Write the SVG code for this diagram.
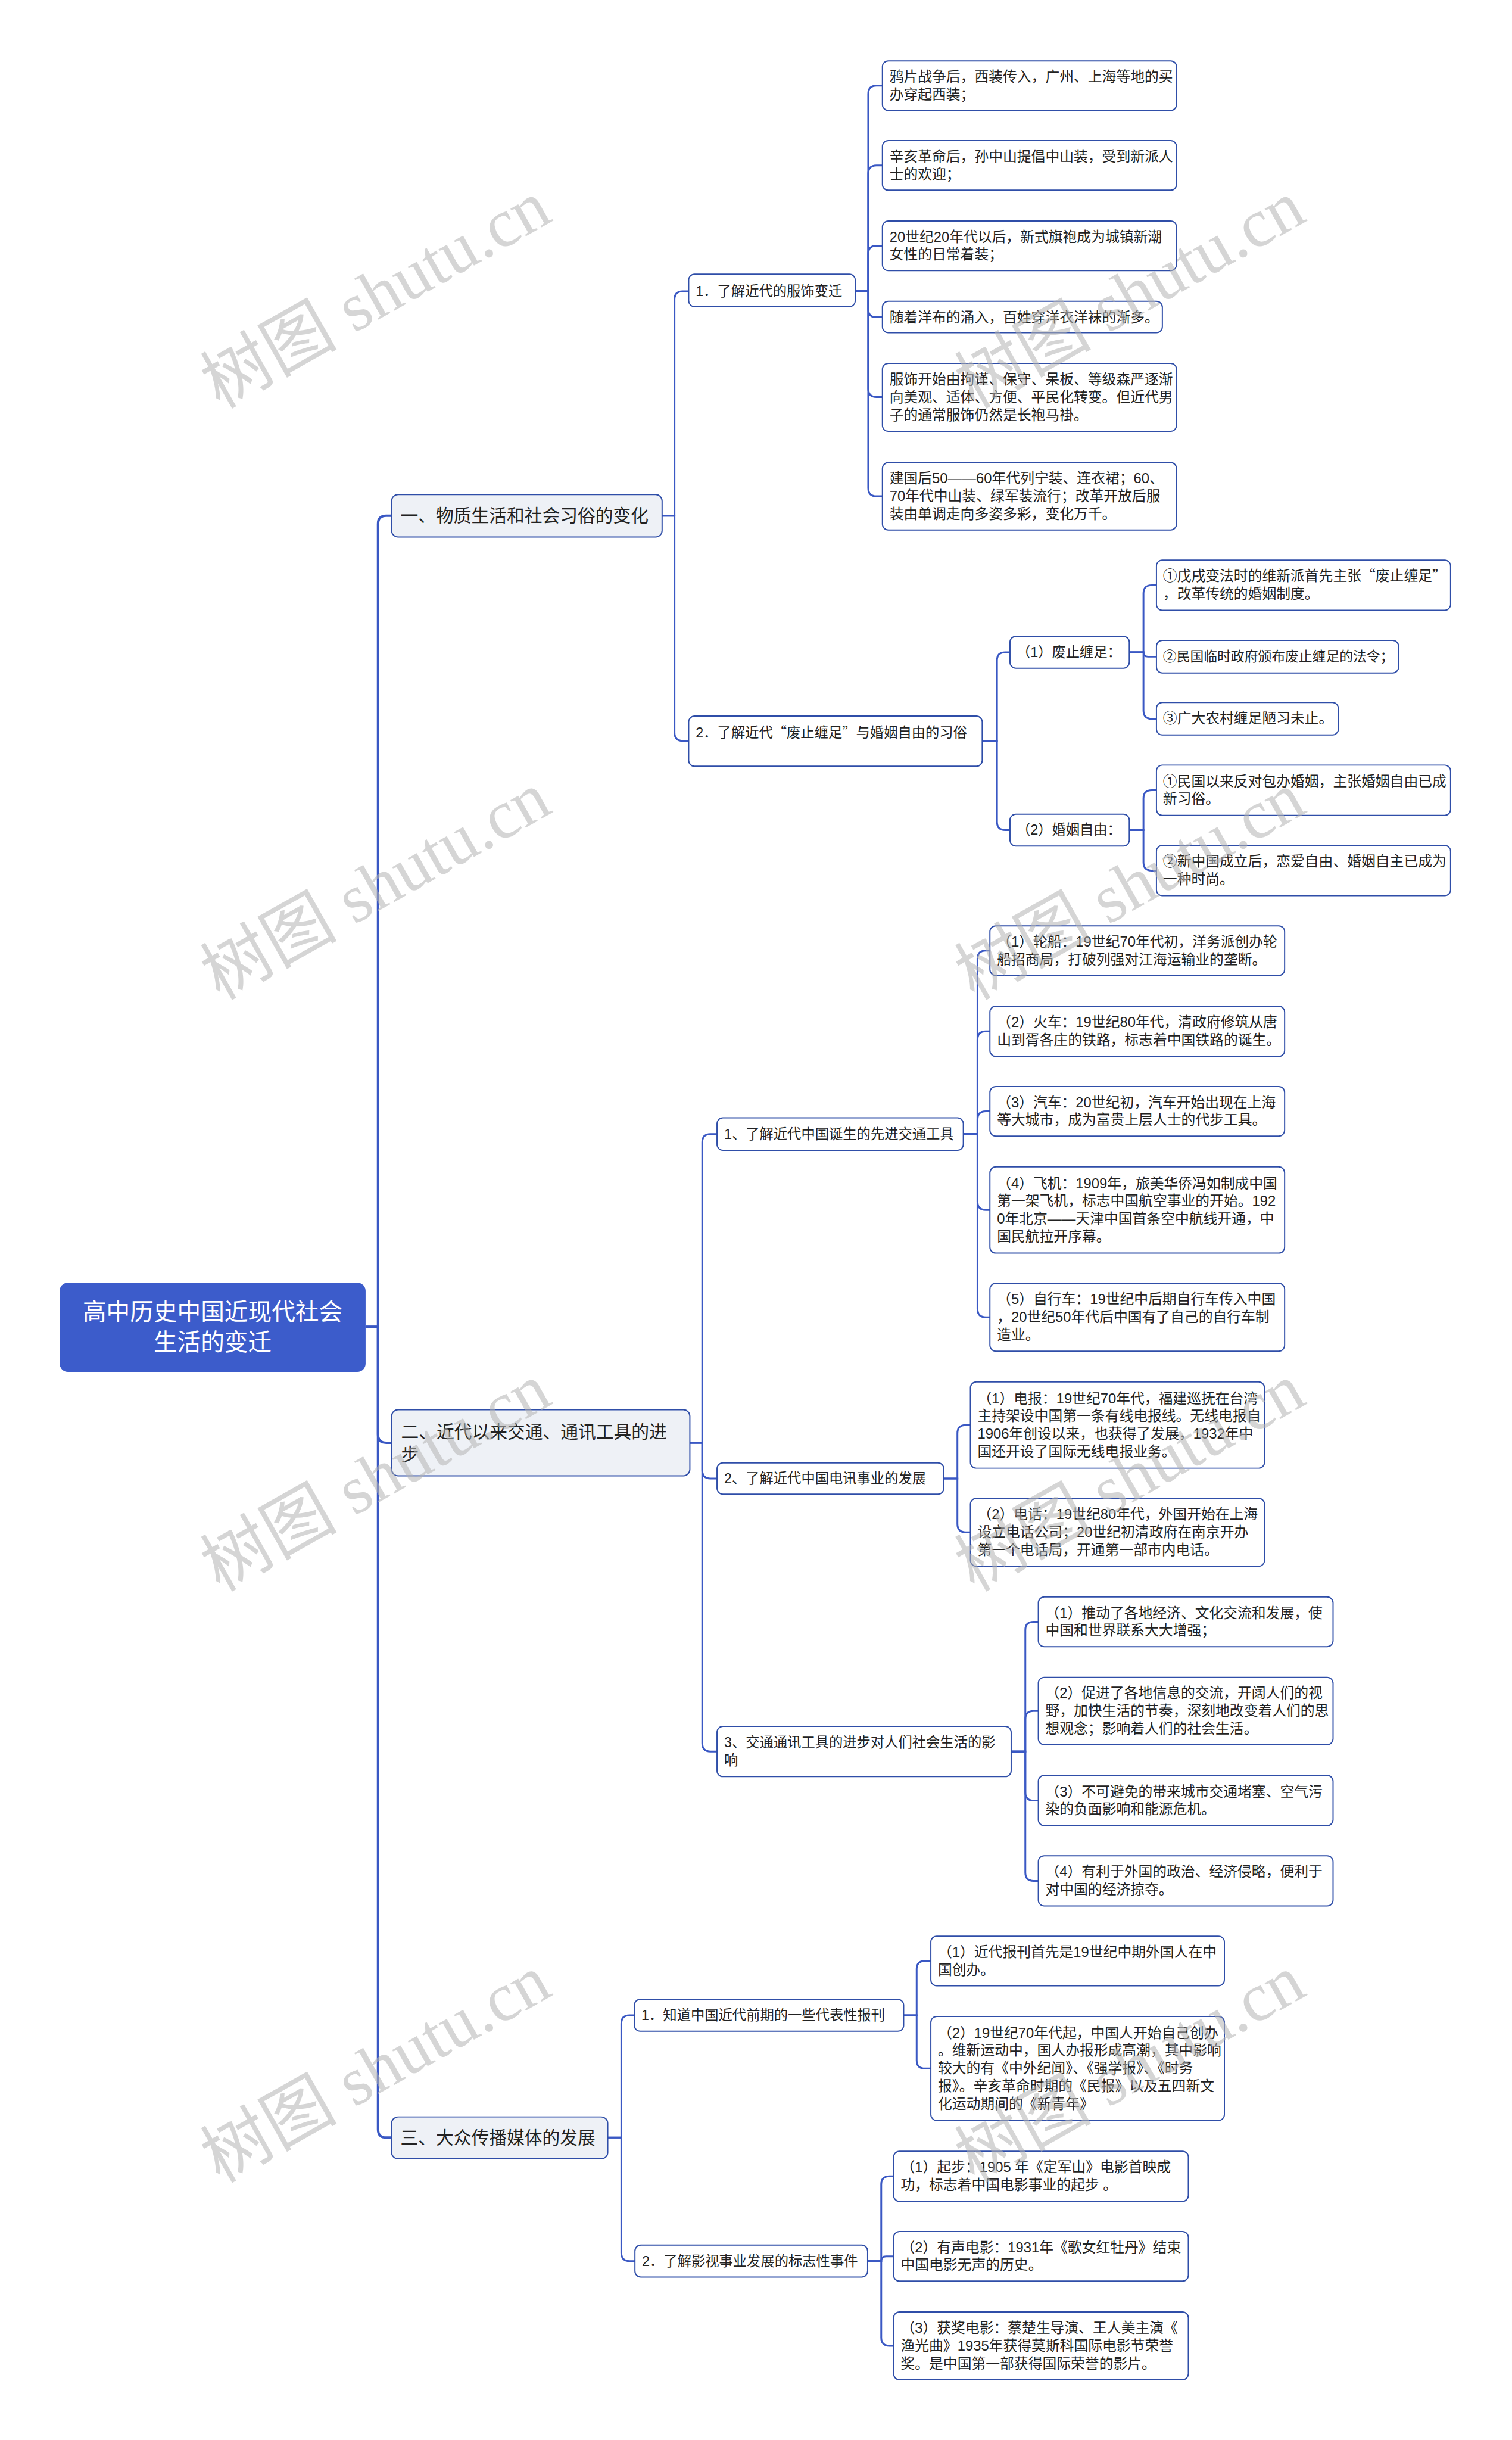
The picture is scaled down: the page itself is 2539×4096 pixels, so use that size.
<svg xmlns="http://www.w3.org/2000/svg" width="2539" height="4096" viewBox="0 0 2539 4096">
<style>
.n rect{fill:#ffffff;stroke:#2f4ea8;stroke-width:2}
.m rect{fill:#eef1f6}
.t{font-family:'Liberation Sans','Noto Sans CJK SC',sans-serif;font-size:24px;fill:#222222}
.s{font-size:23.5px}
.mt{font-size:30px}
.rt{font-size:40px;fill:#ffffff}
.q{font-family:'Noto Sans CJK SC',sans-serif}
.c path{fill:none;stroke:#3a58c4;stroke-width:3}
.c .k{stroke-width:4}
.wm{font-family:'Liberation Serif','Noto Sans CJK SC',serif;font-size:116px;fill:#b4b4b4;opacity:.55}
</style>
<rect x="0" y="0" width="2539" height="4096" fill="#ffffff"/>
<g transform="scale(0.9918)">
<g id="connectors" class="c">
<path class="k" d="M619 2246 H640 V887 Q640 873 654 873 H663"/>
<path class="k" d="M619 2246 H640 V2428 Q640 2442 654 2442 H663"/>
<path class="k" d="M619 2246 H640 V3604 Q640 3618 654 3618 H663"/>
<path d="M1121 873 H1142 V507 Q1142 493 1156 493 H1166"/>
<path d="M1121 873 H1142 V1240 Q1142 1254 1156 1254 H1166"/>
<path d="M1448 493 H1470 V159 Q1470 145 1484 145 H1494"/>
<path d="M1448 493 H1470 V294 Q1470 280 1484 280 H1494"/>
<path d="M1448 493 H1470 V430 Q1470 416 1484 416 H1494"/>
<path d="M1448 493 H1470 V523 Q1470 537 1484 537 H1494"/>
<path d="M1448 493 H1470 V658 Q1470 672 1484 672 H1494"/>
<path d="M1448 493 H1470 V826 Q1470 840 1484 840 H1494"/>
<path d="M1663 1254 H1688 V1118 Q1688 1104 1702 1104 H1710"/>
<path d="M1663 1254 H1688 V1391 Q1688 1405 1702 1405 H1710"/>
<path d="M1912 1104 H1936 V1004.5 Q1936 990.5 1950 990.5 H1958"/>
<path d="M1912 1104 H1936 Q1936 1111.5 1943.5 1111.5 H1958"/>
<path d="M1912 1104 H1936 V1202.5 Q1936 1216.5 1950 1216.5 H1958"/>
<path d="M1912 1405 H1936 V1351.5 Q1936 1337.5 1950 1337.5 H1958"/>
<path d="M1912 1405 H1936 V1459.5 Q1936 1473.5 1950 1473.5 H1958"/>
<path d="M1168 2442 H1189 V1933.5 Q1189 1919.5 1203 1919.5 H1214"/>
<path d="M1168 2442 H1189 V2488.5 Q1189 2502.5 1203 2502.5 H1214"/>
<path d="M1168 2442 H1189 V2950.5 Q1189 2964.5 1203 2964.5 H1214"/>
<path d="M1631 1919.5 H1655 V1623 Q1655 1609 1669 1609 H1676"/>
<path d="M1631 1919.5 H1655 V1759.5 Q1655 1745.5 1669 1745.5 H1676"/>
<path d="M1631 1919.5 H1655 V1895 Q1655 1881 1669 1881 H1676"/>
<path d="M1631 1919.5 H1655 V2034 Q1655 2048 1669 2048 H1676"/>
<path d="M1631 1919.5 H1655 V2215.5 Q1655 2229.5 1669 2229.5 H1676"/>
<path d="M1598 2502.5 H1621 V2426 Q1621 2412 1635 2412 H1643"/>
<path d="M1598 2502.5 H1621 V2579.5 Q1621 2593.5 1635 2593.5 H1643"/>
<path d="M1712 2964.5 H1736 V2759 Q1736 2745 1750 2745 H1758"/>
<path d="M1712 2964.5 H1736 V2910 Q1736 2896 1750 2896 H1758"/>
<path d="M1712 2964.5 H1736 V3033.5 Q1736 3047.5 1750 3047.5 H1758"/>
<path d="M1712 2964.5 H1736 V3169.5 Q1736 3183.5 1750 3183.5 H1758"/>
<path d="M1029 3618 H1052 V3425 Q1052 3411 1066 3411 H1074"/>
<path d="M1029 3618 H1052 V3813 Q1052 3827 1066 3827 H1075"/>
<path d="M1530 3411 H1552 V3333 Q1552 3319 1566 3319 H1576"/>
<path d="M1530 3411 H1552 V3487 Q1552 3501 1566 3501 H1576"/>
<path d="M1469 3827 H1492 V3697.5 Q1492 3683.5 1506 3683.5 H1513"/>
<path d="M1469 3827 H1492 Q1492 3819 1500 3819 H1513"/>
<path d="M1469 3827 H1492 V3956.5 Q1492 3970.5 1506 3970.5 H1513"/>
</g>

<g id="n-root"><rect x="101" y="2171" width="518" height="151" rx="14" fill="#3c5ccb"/><text class="t rt" text-anchor="middle"><tspan x="360" y="2234">高中历史中国近现代社会</tspan><tspan x="360" y="2286">生活的变迁</tspan></text></g>

<g id="n-1" class="n m"><rect x="663" y="837" width="458" height="72" rx="11"/><text class="t mt" x="678" y="883.5">一、物质生活和社会习俗的变化</text></g>
<g id="n-2" class="n m"><rect x="663" y="2386" width="505" height="112" rx="11"/><text class="t mt"><tspan x="679" y="2433.5">二、近代以来交通、通讯工具的进</tspan><tspan x="679" y="2472.5">步</tspan></text></g>
<g id="n-3" class="n m"><rect x="663" y="3583" width="366" height="71" rx="11"/><text class="t mt" x="678" y="3628.5">三、大众传播媒体的发展</text></g>

<g id="n-1-1" class="n"><rect x="1166" y="464" width="282" height="55" rx="10"/><text class="t s" x="1178" y="501">1．了解近代的服饰变迁</text></g>
<g id="n-1-1-1" class="n"><rect x="1494" y="103" width="498" height="84" rx="10"/><text class="t"><tspan x="1506" y="138">鸦片战争后，西装传入，广州、上海等地的买</tspan><tspan x="1506" y="168">办穿起西装；</tspan></text></g>
<g id="n-1-1-2" class="n"><rect x="1494" y="238" width="498" height="84" rx="10"/><text class="t"><tspan x="1506" y="273">辛亥革命后，孙中山提倡中山装，受到新派人</tspan><tspan x="1506" y="303">士的欢迎；</tspan></text></g>
<g id="n-1-1-3" class="n"><rect x="1494" y="374" width="498" height="84" rx="10"/><text class="t"><tspan x="1506" y="409">20世纪20年代以后，新式旗袍成为城镇新潮</tspan><tspan x="1506" y="439">女性的日常着装；</tspan></text></g>
<g id="n-1-1-4" class="n"><rect x="1494" y="510" width="474" height="53" rx="10"/><text class="t" x="1506" y="545">随着洋布的涌入，百姓穿洋衣洋袜的渐多。</text></g>
<g id="n-1-1-5" class="n"><rect x="1494" y="615" width="498" height="115" rx="10"/><text class="t"><tspan x="1506" y="650.5">服饰开始由拘谨、保守、呆板、等级森严逐渐</tspan><tspan x="1506" y="680.5">向美观、适体、方便、平民化转变。但近代男</tspan><tspan x="1506" y="710.5">子的通常服饰仍然是长袍马褂。</tspan></text></g>
<g id="n-1-1-6" class="n"><rect x="1494" y="783" width="498" height="114" rx="10"/><text class="t"><tspan x="1506" y="818">建国后50——60年代列宁装、连衣裙；60、</tspan><tspan x="1506" y="848">70年代中山装、绿军装流行；改革开放后服</tspan><tspan x="1506" y="878">装由单调走向多姿多彩，变化万千。</tspan></text></g>

<g id="n-1-2" class="n"><rect x="1166" y="1212" width="497" height="85" rx="10"/><text class="t s" x="1178" y="1248">2．了解近代<tspan class="q">“</tspan>废止缠足<tspan class="q">”</tspan>与婚姻自由的习俗</text></g>
<g id="n-1-2-1" class="n"><rect x="1710" y="1077" width="202" height="54" rx="10"/><text class="t s" x="1721" y="1112">（1）废止缠足：</text></g>
<g id="n-1-2-2" class="n"><rect x="1710" y="1378" width="202" height="54" rx="10"/><text class="t s" x="1721" y="1413">（2）婚姻自由：</text></g>
<g id="n-1-2-1-1" class="n"><rect x="1958" y="948" width="498" height="85" rx="10"/><text class="t"><tspan x="1969" y="983.5">①戊戌变法时的维新派首先主张<tspan class="q">“</tspan>废止缠足<tspan class="q">”</tspan></tspan><tspan x="1969" y="1013.5">，改革传统的婚姻制度。</tspan></text></g>
<g id="n-1-2-1-2" class="n"><rect x="1958" y="1084" width="410" height="55" rx="10"/><text class="t" style="font-size:23px" x="1969" y="1119.5">②民国临时政府颁布废止缠足的法令；</text></g>
<g id="n-1-2-1-3" class="n"><rect x="1958" y="1189" width="308" height="55" rx="10"/><text class="t" x="1969" y="1224.5">③广大农村缠足陋习未止。</text></g>
<g id="n-1-2-2-1" class="n"><rect x="1958" y="1295" width="498" height="85" rx="10"/><text class="t"><tspan x="1969" y="1330.5">①民国以来反对包办婚姻，主张婚姻自由已成</tspan><tspan x="1969" y="1360.5">新习俗。</tspan></text></g>
<g id="n-1-2-2-2" class="n"><rect x="1958" y="1431" width="498" height="85" rx="10"/><text class="t"><tspan x="1969" y="1466.5">②新中国成立后，恋爱自由、婚姻自主已成为</tspan><tspan x="1969" y="1496.5">一种时尚。</tspan></text></g>

<g id="n-2-1" class="n"><rect x="1214" y="1892" width="417" height="55" rx="10"/><text class="t s" x="1226" y="1927.5">1、了解近代中国诞生的先进交通工具</text></g>
<g id="n-2-1-1" class="n"><rect x="1676" y="1567" width="499" height="84" rx="10"/><text class="t"><tspan x="1688" y="1602">（1）轮船：19世纪70年代初，洋务派创办轮</tspan><tspan x="1688" y="1632">船招商局，打破列强对江海运输业的垄断。</tspan></text></g>
<g id="n-2-1-2" class="n"><rect x="1676" y="1703" width="499" height="85" rx="10"/><text class="t"><tspan x="1688" y="1738.5">（2）火车：19世纪80年代，清政府修筑从唐</tspan><tspan x="1688" y="1768.5">山到胥各庄的铁路，标志着中国铁路的诞生。</tspan></text></g>
<g id="n-2-1-3" class="n"><rect x="1676" y="1839" width="499" height="84" rx="10"/><text class="t"><tspan x="1688" y="1874">（3）汽车：20世纪初，汽车开始出现在上海</tspan><tspan x="1688" y="1904">等大城市，成为富贵上层人士的代步工具。</tspan></text></g>
<g id="n-2-1-4" class="n"><rect x="1676" y="1975" width="499" height="146" rx="10"/><text class="t"><tspan x="1688" y="2011">（4）飞机：1909年，旅美华侨冯如制成中国</tspan><tspan x="1688" y="2041">第一架飞机，标志中国航空事业的开始。192</tspan><tspan x="1688" y="2071">0年北京——天津中国首条空中航线开通，中</tspan><tspan x="1688" y="2101">国民航拉开序幕。</tspan></text></g>
<g id="n-2-1-5" class="n"><rect x="1676" y="2172" width="499" height="115" rx="10"/><text class="t"><tspan x="1688" y="2207.5">（5）自行车：19世纪中后期自行车传入中国</tspan><tspan x="1688" y="2237.5">，20世纪50年代后中国有了自己的自行车制</tspan><tspan x="1688" y="2267.5">造业。</tspan></text></g>

<g id="n-2-2" class="n"><rect x="1214" y="2476" width="384" height="53" rx="10"/><text class="t s" x="1226" y="2510.5">2、了解近代中国电讯事业的发展</text></g>
<g id="n-2-2-1" class="n"><rect x="1643" y="2339" width="498" height="146" rx="10"/><text class="t"><tspan x="1655" y="2375">（1）电报：19世纪70年代，福建巡抚在台湾</tspan><tspan x="1655" y="2405">主持架设中国第一条有线电报线。无线电报自</tspan><tspan x="1655" y="2435">1906年创设以来，也获得了发展，1932年中</tspan><tspan x="1655" y="2465">国还开设了国际无线电报业务。</tspan></text></g>
<g id="n-2-2-2" class="n"><rect x="1643" y="2536" width="498" height="115" rx="10"/><text class="t"><tspan x="1655" y="2571.5">（2）电话：19世纪80年代，外国开始在上海</tspan><tspan x="1655" y="2601.5">设立电话公司；20世纪初清政府在南京开办</tspan><tspan x="1655" y="2631.5">第一个电话局，开通第一部市内电话。</tspan></text></g>

<g id="n-2-3" class="n"><rect x="1214" y="2922" width="498" height="85" rx="10"/><text class="t s"><tspan x="1226" y="2957.5">3、交通通讯工具的进步对人们社会生活的影</tspan><tspan x="1226" y="2987.5">响</tspan></text></g>
<g id="n-2-3-1" class="n"><rect x="1758" y="2703" width="499" height="84" rx="10"/><text class="t"><tspan x="1770" y="2738">（1）推动了各地经济、文化交流和发展，使</tspan><tspan x="1770" y="2768">中国和世界联系大大增强；</tspan></text></g>
<g id="n-2-3-2" class="n"><rect x="1758" y="2839" width="499" height="114" rx="10"/><text class="t"><tspan x="1770" y="2874">（2）促进了各地信息的交流，开阔人们的视</tspan><tspan x="1770" y="2904">野，加快生活的节奏，深刻地改变着人们的思</tspan><tspan x="1770" y="2934">想观念；影响着人们的社会生活。</tspan></text></g>
<g id="n-2-3-3" class="n"><rect x="1758" y="3005" width="499" height="85" rx="10"/><text class="t"><tspan x="1770" y="3040.5">（3）不可避免的带来城市交通堵塞、空气污</tspan><tspan x="1770" y="3070.5">染的负面影响和能源危机。</tspan></text></g>
<g id="n-2-3-4" class="n"><rect x="1758" y="3141" width="499" height="85" rx="10"/><text class="t"><tspan x="1770" y="3176.5">（4）有利于外国的政治、经济侵略，便利于</tspan><tspan x="1770" y="3206.5">对中国的经济掠夺。</tspan></text></g>

<g id="n-3-1" class="n"><rect x="1074" y="3384" width="456" height="54" rx="10"/><text class="t s" x="1086" y="3419">1．知道中国近代前期的一些代表性报刊</text></g>
<g id="n-3-1-1" class="n"><rect x="1576" y="3277" width="497" height="84" rx="10"/><text class="t"><tspan x="1588" y="3312">（1）近代报刊首先是19世纪中期外国人在中</tspan><tspan x="1588" y="3342">国创办。</tspan></text></g>
<g id="n-3-1-2" class="n"><rect x="1576" y="3413" width="497" height="176" rx="10"/><text class="t"><tspan x="1588" y="3449">（2）19世纪70年代起，中国人开始自己创办</tspan><tspan x="1588" y="3479">。维新运动中，国人办报形成高潮，其中影响</tspan><tspan x="1588" y="3509">较大的有《中外纪闻》、《强学报》、《时务</tspan><tspan x="1588" y="3539">报》。辛亥革命时期的《民报》以及五四新文</tspan><tspan x="1588" y="3569">化运动期间的《新青年》</tspan></text></g>

<g id="n-3-2" class="n"><rect x="1075" y="3800" width="394" height="54" rx="10"/><text class="t s" x="1087" y="3835">2．了解影视事业发展的标志性事件</text></g>
<g id="n-3-2-1" class="n"><rect x="1513" y="3641" width="499" height="85" rx="10"/><text class="t"><tspan x="1525" y="3676.5">（1）起步：1905 年《定军山》电影首映成</tspan><tspan x="1525" y="3706.5">功，标志着中国电影事业的起步 。</tspan></text></g>
<g id="n-3-2-2" class="n"><rect x="1513" y="3777" width="499" height="84" rx="10"/><text class="t"><tspan x="1525" y="3812">（2）有声电影：1931年《歌女红牡丹》结束</tspan><tspan x="1525" y="3842">中国电影无声的历史。</tspan></text></g>
<g id="n-3-2-3" class="n"><rect x="1513" y="3913" width="499" height="115" rx="10"/><text class="t"><tspan x="1525" y="3948.5">（3）获奖电影：蔡楚生导演、王人美主演《</tspan><tspan x="1525" y="3978.5">渔光曲》1935年获得莫斯科国际电影节荣誉</tspan><tspan x="1525" y="4008.5">奖。是中国第一部获得国际荣誉的影片。</tspan></text></g>

<g id="watermarks">
<text class="wm" transform="translate(372,693) rotate(-29.5)">树图 shutu.cn</text>
<text class="wm" transform="translate(372,1694) rotate(-29.5)">树图 shutu.cn</text>
<text class="wm" transform="translate(372,2695) rotate(-29.5)">树图 shutu.cn</text>
<text class="wm" transform="translate(372,3696) rotate(-29.5)">树图 shutu.cn</text>
<text class="wm" transform="translate(1649,693) rotate(-29.5)">树图 shutu.cn</text>
<text class="wm" transform="translate(1649,1694) rotate(-29.5)">树图 shutu.cn</text>
<text class="wm" transform="translate(1649,2695) rotate(-29.5)">树图 shutu.cn</text>
<text class="wm" transform="translate(1649,3696) rotate(-29.5)">树图 shutu.cn</text>
</g>
</g>
</svg>
